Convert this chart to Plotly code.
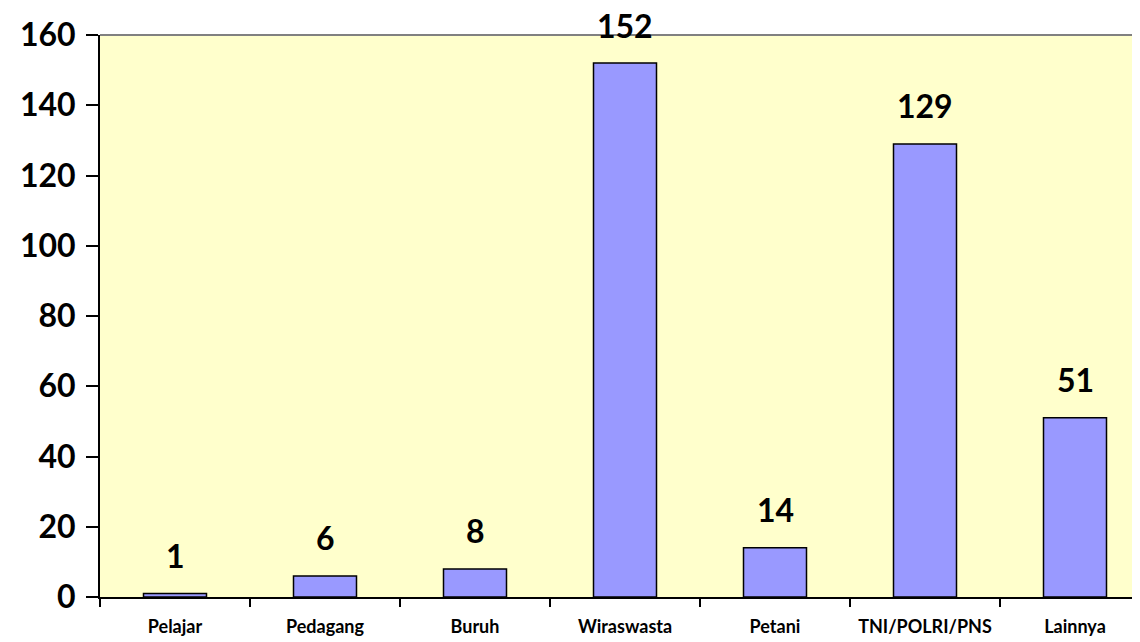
import plotly.graph_objects as go

categories = ["Pelajar", "Pedagang", "Buruh", "Wiraswasta", "Petani", "TNI/POLRI/PNS", "Lainnya"]
values = [1, 6, 8, 152, 14, 129, 51]
y_ticks = [0, 20, 40, 60, 80, 100, 120, 140, 160]

FONT = "Lato"

fig = go.Figure()
fig.add_trace(go.Bar(
    x=categories, y=values, width=0.42,
    marker=dict(color="#9999FF", line=dict(color="black", width=1.5)),
    hoverinfo="x+y",
))

for c, v in zip(categories, values):
    fig.add_annotation(x=c, y=v, text=str(v), showarrow=False,
                       yanchor="middle", yshift=38, borderpad=0,
                       font=dict(family=FONT, size=32, color="black", weight="bold"))

fig.add_shape(type="line", xref="paper", yref="paper", x0=0, x1=1, y0=1, y1=1,
              line=dict(color="#808080", width=2))

# page body has an 8px default margin; compensate so the plot sits where the reference does
fig.update_layout(
    width=1132, height=634,
    margin=dict(l=92, r=0, t=27, b=45),
    paper_bgcolor="white", plot_bgcolor="#FFFFCC",
    showlegend=False,
    font=dict(family=FONT, color="black"),
    xaxis=dict(
        type="category", range=[-0.5, -0.5 + 1040 / 150],
        showline=True, linecolor="black", linewidth=2,
        ticks="outside", tickson="boundaries", ticklen=8, tickwidth=1.5, tickcolor="black",
        tickfont=dict(family=FONT, size=18, color="black", weight="bold"),
        tickangle=0, automargin=False,
        ticklabelstandoff=12,
        showgrid=False, fixedrange=True,
    ),
    yaxis=dict(
        range=[0, 160], tickvals=y_ticks,
        showline=True, linecolor="black", linewidth=2,
        ticks="outside", ticklen=12, tickwidth=2, tickcolor="black",
        tickfont=dict(family=FONT, size=32, color="black", weight="bold"),
        ticklabelstandoff=4, automargin=False,
        showgrid=False, zeroline=False,
    ),
)

fig.write_html("out.html")
